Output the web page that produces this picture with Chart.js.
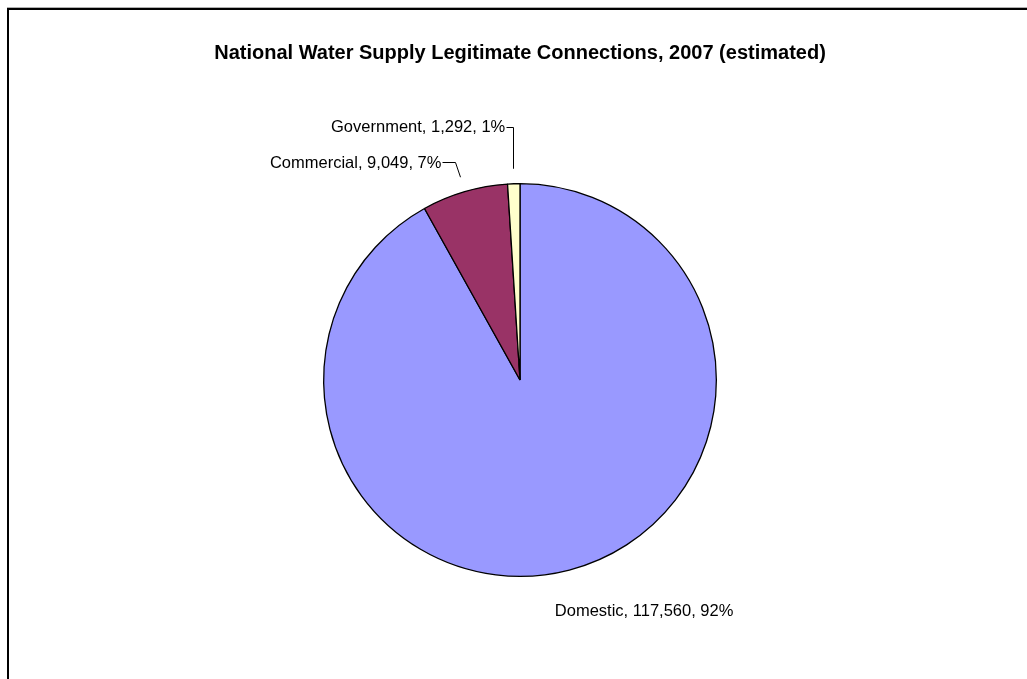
<!DOCTYPE html>
<html>
<head>
<meta charset="utf-8">
<title>National Water Supply Legitimate Connections, 2007</title>
<script src="https://cdn.jsdelivr.net/npm/chart.js@4.4.1/dist/chart.umd.min.js"></script>
<style>
  html, body { margin: 0; padding: 0; background: #fff; overflow: hidden; }
  #wrap { position: relative; width: 1027px; height: 679px; }
  #frame {
    position: absolute; left: 7px; top: 8px; right: -10px; bottom: -10px;
    border-left: 2px solid #000; border-top: 2px solid #000;
    box-shadow: 0 -1px 0 #b0b0b0;
  }
  canvas { position: absolute; left: 0; top: 0; }
</style>
</head>
<body>
<div id="wrap">
  <div id="frame"></div>
  <canvas id="chart" width="1027" height="679"></canvas>
</div>
<script>
// connection counts by customer type
const categories = ['Domestic', 'Commercial', 'Government'];
const connections = [117560, 9049, 1292];
const sliceColors = ['#9999FF', '#993366', '#FFFFCC'];

// where each label sits, relative to a point just outside its slice
const labelPlacement = [
  { dx: 71, dy: 27, align: 'center', leader: false },
  { dx: -5, dy: -15, align: 'right', leader: true, gap: 13 },
  { dx: 0, dy: -42, align: 'right', leader: true, gap: 7 }
];

const fmt = n => n.toLocaleString('en-US');

const sliceLabels = {
  id: 'sliceLabels',
  afterDatasetsDraw(chart) {
    const ctx = chart.ctx;
    const data = chart.data.datasets[0].data;
    const total = data.reduce((a, b) => a + b, 0);
    const meta = chart.getDatasetMeta(0);
    ctx.save();
    ctx.font = '16.5px "Liberation Sans", Arial, sans-serif';
    ctx.fillStyle = '#000';
    ctx.strokeStyle = '#000';
    ctx.lineWidth = 1;
    ctx.textBaseline = 'middle';
    meta.data.forEach((arc, i) => {
      const p = arc.getProps(['x', 'y', 'startAngle', 'endAngle', 'outerRadius'], true);
      const mid = (p.startAngle + p.endAngle) / 2;
      const r = p.outerRadius + 15;
      const ax = p.x + Math.cos(mid) * r;
      const ay = p.y + Math.sin(mid) * r;
      const pl = labelPlacement[i];
      const ex = ax + pl.dx, ey = ay + pl.dy;
      const text = categories[i] + ', ' + fmt(data[i]) + ', ' + Math.round(data[i] / total * 100) + '%';
      if (pl.leader) {
        ctx.beginPath();
        ctx.moveTo(Math.round(ax) + 0.5, ay);
        ctx.lineTo(Math.round(ex) + 0.5, Math.round(ey) + 0.5);
        ctx.lineTo(Math.round(ex - pl.gap) + 0.5, Math.round(ey) + 0.5);
        ctx.stroke();
        ctx.textAlign = 'right';
        ctx.fillText(text, ex - pl.gap - 1, ey + 1);
      } else {
        ctx.textAlign = pl.align;
        ctx.fillText(text, ex, ey);
      }
    });
    ctx.restore();
  }
};

new Chart(document.getElementById('chart'), {
  type: 'pie',
  data: {
    labels: categories,
    datasets: [{
      data: connections,
      backgroundColor: sliceColors,
      borderColor: '#000',
      borderWidth: 1.3
    }]
  },
  options: {
    responsive: false,
    animation: false,
    layout: { padding: { top: 0, bottom: 102, left: 13, right: 0 } },
    plugins: {
      legend: { display: false },
      tooltip: { enabled: false },
      title: {
        display: true,
        text: 'National Water Supply Legitimate Connections, 2007 (estimated)',
        color: '#000',
        font: { family: '"Liberation Sans", Arial, sans-serif', size: 20, weight: 'bold', lineHeight: 1.2 },
        padding: { top: 41, bottom: 118 }
      }
    }
  },
  plugins: [sliceLabels]
});
</script>
</body>
</html>
